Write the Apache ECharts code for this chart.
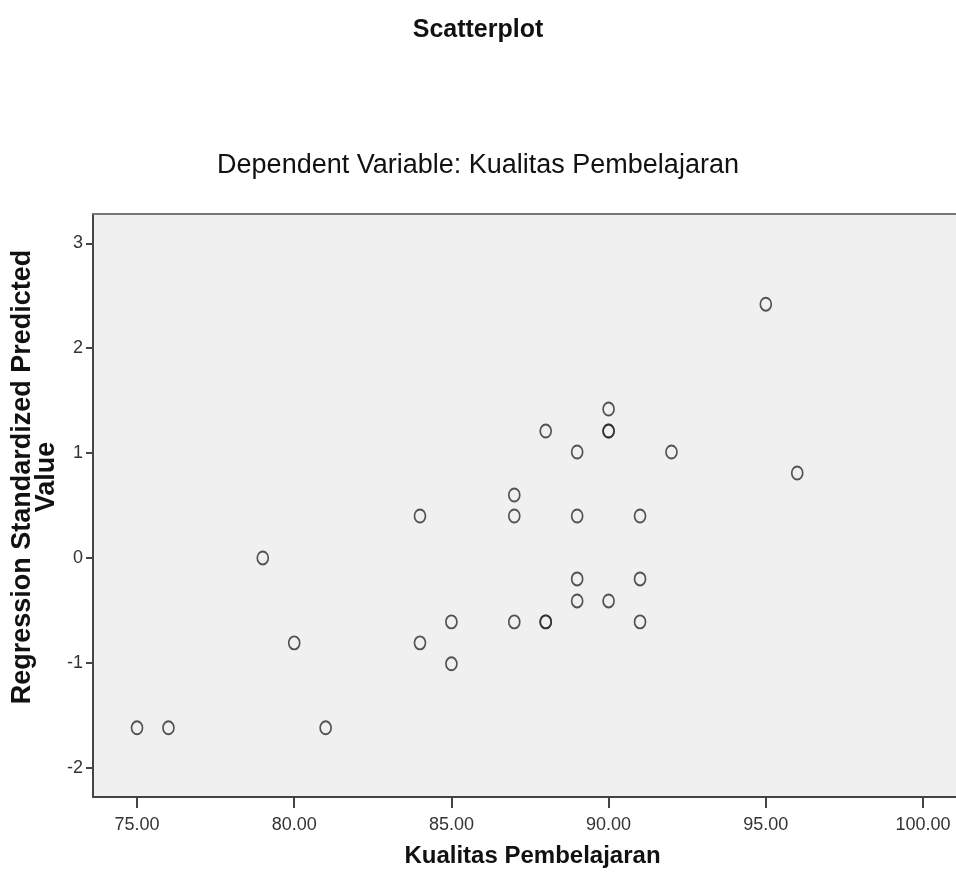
<!DOCTYPE html>
<html>
<head>
<meta charset="utf-8">
<script src="https://cdn.jsdelivr.net/npm/echarts@6/dist/echarts.min.js"></script>
<style>
  html, body { margin: 0; padding: 0; background: #fff; }
  #chart { width: 956px; height: 888px; }
</style>
</head>
<body>
<div id="chart"></div>
<script>
// Kualitas Pembelajaran (observed) vs regression standardized predicted value
var xValues = [95, 90, 88, 90, 90, 89, 92, 96, 87, 84, 87, 89, 91, 79, 89, 91, 89, 90, 85, 87, 88, 88, 91, 80, 84, 85, 75, 76, 81];
var yValues = [2.42, 1.42, 1.21, 1.21, 1.21, 1.01, 1.01, 0.81, 0.60, 0.40, 0.40, 0.40, 0.40, 0.00, -0.20, -0.20, -0.41, -0.41, -0.61, -0.61, -0.61, -0.61, -0.61, -0.81, -0.81, -1.01, -1.62, -1.62, -1.62];
var xTicks = [75, 80, 85, 90, 95, 100];
var yTicks = [-2, -1, 0, 1, 2, 3];

var points = xValues.map(function (x, i) { return [x, yValues[i]]; });

var font = '"Liberation Sans", Arial, sans-serif';
var myChart = echarts.init(document.getElementById('chart'));

var option = {
    backgroundColor: '#fff',
    animation: false,
    title: [
        {
            text: 'Scatterplot',
            left: 'center',
            top: 13,
            textStyle: { fontFamily: font, fontSize: 25, fontWeight: 'bold', color: '#111' }
        },
        {
            text: 'Dependent Variable: Kualitas Pembelajaran',
            left: 'center',
            top: 147,
            textStyle: { fontFamily: font, fontSize: 27, fontWeight: 'normal', color: '#111' }
        }
    ],
    grid: {
        left: 93,
        right: 0,
        top: 214,
        bottom: 91,
        show: true,
        backgroundColor: '#f0f0f0',
        borderWidth: 0
    },
    xAxis: [
        {
            type: 'value',
            min: 73.6,
            max: 101.05,
            name: 'Kualitas Pembelajaran',
            nameLocation: 'middle',
            nameGap: 47,
            nameTextStyle: { fontFamily: font, fontSize: 24, fontWeight: 'bold', color: '#111', padding: [0, 0, 0, 16] },
            splitLine: { show: false },
            axisLine: { onZero: false, lineStyle: { color: '#444', width: 2 } },
            axisTick: { customValues: xTicks, length: 11, lineStyle: { color: '#444', width: 2 } },
            axisLabel: {
                customValues: xTicks,
                margin: 19,
                fontFamily: font,
                fontSize: 18,
                color: '#333',
                formatter: function (v) { return v.toFixed(2); }
            }
        },
        {
            // top frame line only
            type: 'value',
            position: 'top',
            min: 73.6,
            max: 101.05,
            splitLine: { show: false },
            axisLine: { onZero: false, lineStyle: { color: '#777', width: 2 } },
            axisTick: { show: false },
            axisLabel: { show: false }
        }
    ],
    yAxis: {
        type: 'value',
        min: -2.28,
        max: 3.28,
        splitLine: { show: false },
        axisLine: { onZero: false, lineStyle: { color: '#444', width: 2 } },
        axisTick: { customValues: yTicks, length: 7, lineStyle: { color: '#444', width: 2 } },
        axisLabel: {
            customValues: yTicks,
            margin: 10,
            fontFamily: font,
            fontSize: 18,
            color: '#333'
        }
    },
    graphic: [
        {
            type: 'text',
            x: 35,
            y: 477,
            rotation: Math.PI / 2,
            style: {
                text: 'Regression Standardized Predicted\nValue',
                fontFamily: font,
                fontSize: 27,
                fontWeight: 'bold',
                lineHeight: 24,
                fill: '#111',
                align: 'center',
                verticalAlign: 'middle'
            }
        }
    ],
    series: [
        {
            type: 'scatter',
            data: points,
            symbol: 'circle',
            symbolSize: [11, 13],
            itemStyle: { color: 'rgba(0,0,0,0)', borderColor: '#2a2a2a', borderWidth: 1.8 }
        }
    ]
};

myChart.setOption(option);
</script>
</body>
</html>
